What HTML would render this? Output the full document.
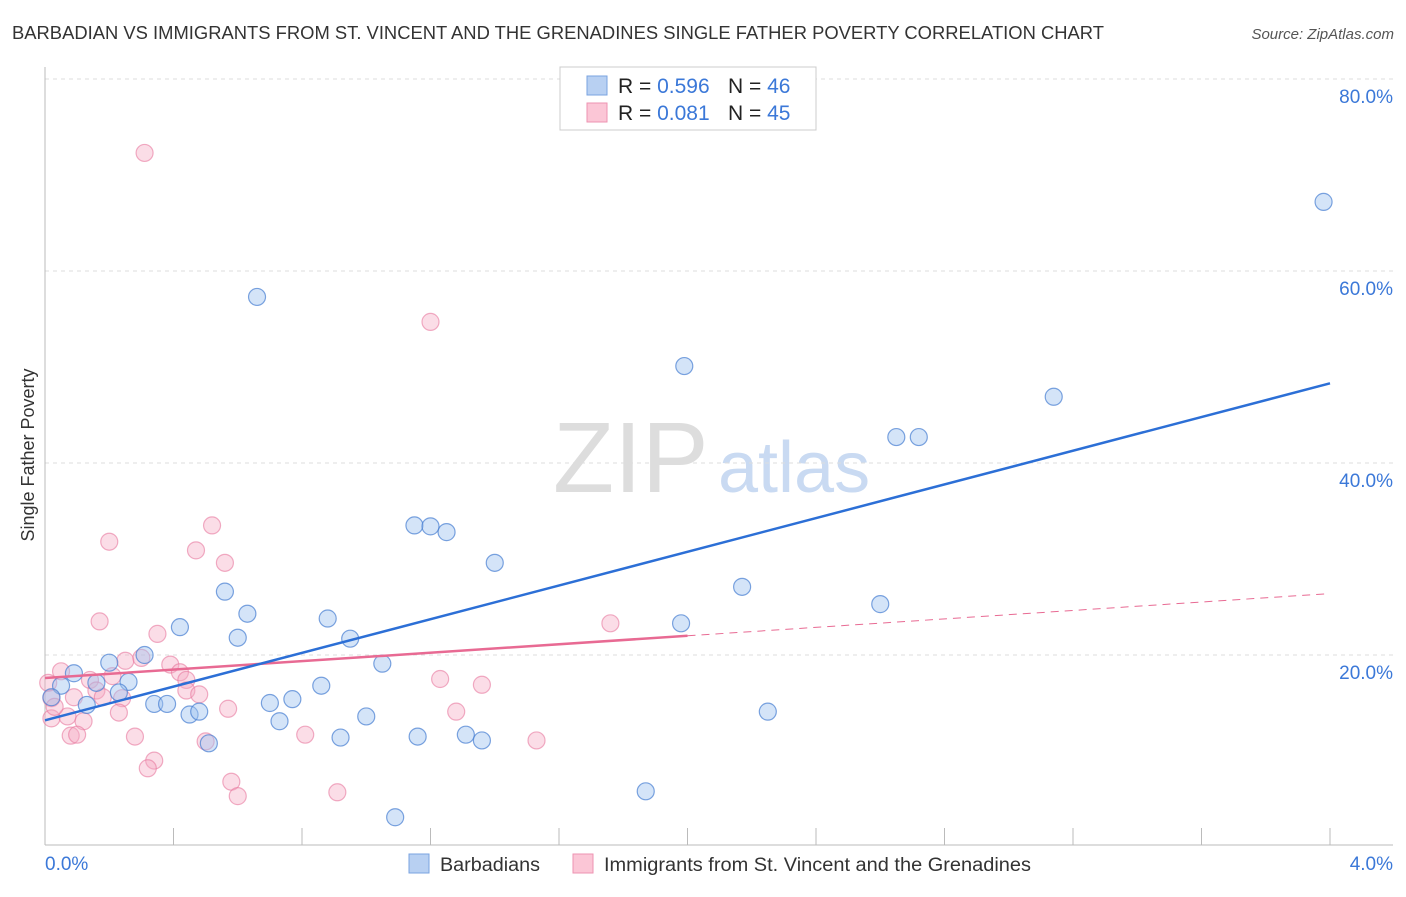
<!DOCTYPE html>
<html><head><meta charset="utf-8"><style>
body{margin:0;background:#fff;font-family:"Liberation Sans",sans-serif;}
svg text{font-family:"Liberation Sans",sans-serif;}
</style></head><body>
<svg id="chart" width="1406" height="892" xmlns="http://www.w3.org/2000/svg">
<text x="12" y="39" font-size="18" fill="#333" textLength="1092" lengthAdjust="spacingAndGlyphs">BARBADIAN VS IMMIGRANTS FROM ST. VINCENT AND THE GRENADINES SINGLE FATHER POVERTY CORRELATION CHART</text>
<text x="1394" y="39" font-size="15" fill="#555" font-style="italic" text-anchor="end">Source: ZipAtlas.com</text>
<g>
<text x="553" y="492" font-size="100" fill="#ddd" font-family="Liberation Serif, serif">ZIP</text>
<text x="718" y="492" font-size="72" fill="#c9daf2">atlas</text>
</g>
<g id="grid"></g>
<g id="axes"></g>
<g id="marks"></g>
<text transform="translate(34,455) rotate(-90)" font-size="18" fill="#333" text-anchor="middle">Single Father Poverty</text>
<g>
<rect x="560" y="67" width="256" height="63" fill="#fff" stroke="#ccc"/>
<rect x="587" y="76" width="20" height="19" fill="#b8d0f2" stroke="#7aa3e0"/>
<rect x="587" y="103" width="20" height="19" fill="#fbc6d6" stroke="#ee93b1"/>
<text x="618" y="93" font-size="21" fill="#222">R = <tspan fill="#3b78d8">0.596</tspan></text>
<text x="728" y="93" font-size="21" fill="#222">N = <tspan fill="#3b78d8">46</tspan></text>
<text x="618" y="120" font-size="21" fill="#222">R = <tspan fill="#3b78d8">0.081</tspan></text>
<text x="728" y="120" font-size="21" fill="#222">N = <tspan fill="#3b78d8">45</tspan></text>
</g>
<g>
<rect x="409" y="854" width="20" height="19" fill="#b8d0f2" stroke="#7aa3e0"/>
<text x="440" y="871" font-size="19" fill="#333" textLength="100" lengthAdjust="spacingAndGlyphs">Barbadians</text>
<rect x="573" y="854" width="20" height="19" fill="#fbc6d6" stroke="#ee93b1"/>
<text x="604" y="871" font-size="19" fill="#333" textLength="427" lengthAdjust="spacingAndGlyphs">Immigrants from St. Vincent and the Grenadines</text>
</g>
</svg>
<script>
const yTicks=[20,40,60,80];
const yTickLabels=["20.0%","40.0%","60.0%","80.0%"];
const xTickLabels=["0.0%","4.0%"];
const blueX=[3.98,0.66,1.99,3.14,2.65,2.72,1.15,1.20,1.25,1.40,2.17,0.56,2.60,0.63,0.88,0.42,1.98,0.60,0.95,0.31,0.20,1.05,0.09,0.26,0.05,0.16,0.86,0.23,0.77,0.34,0.38,0.70,0.13,0.02,0.45,0.48,1.00,0.73,2.25,0.51,0.92,1.16,1.31,1.36,1.87,1.09];
const blueY=[67.2,57.3,50.1,46.9,42.7,42.7,33.5,33.4,32.8,29.6,27.1,26.6,25.3,24.3,23.8,22.9,23.3,21.8,21.7,20.0,19.2,19.1,18.1,17.2,16.8,17.1,16.8,16.1,15.4,14.9,14.9,15.0,14.8,15.6,13.8,14.1,13.6,13.1,14.1,10.8,11.4,11.5,11.7,11.1,5.8,3.1];
const pinkX=[0.31,1.20,0.52,0.20,0.47,0.56,0.17,0.35,1.76,0.25,0.05,0.39,0.42,0.30,0.01,0.14,0.21,0.44,0.16,0.44,0.48,0.09,0.18,0.24,1.23,1.36,0.02,0.07,0.12,0.23,0.57,1.28,0.08,0.10,0.28,0.81,0.50,1.53,0.34,0.32,0.58,0.60,0.91,0.02,0.03];
const pinkY=[72.3,54.7,33.5,31.8,30.9,29.6,23.5,22.2,23.3,19.4,18.3,19.0,18.2,19.7,17.1,17.4,17.8,17.4,16.3,16.3,15.9,15.6,15.6,15.5,17.5,16.9,13.4,13.6,13.1,14.0,14.4,14.1,11.6,11.7,11.5,11.7,11.0,11.1,9.0,8.2,6.8,5.3,5.7,15.5,14.6];
const blueTrend=[[0,13.2],[4,48.3]];
const pinkTrendSolid=[[0,17.6],[2.0,22.0]];
const pinkTrendDash=[[2.0,22.0],[4,26.4]];
const NS='http://www.w3.org/2000/svg';
const sx=v=>45+v/4*1285;
const sy=v=>847-v*9.6;
function mk(tag,attrs,parent){const e=document.createElementNS(NS,tag);for(const k in attrs)e.setAttribute(k,attrs[k]);parent.appendChild(e);return e;}
const grid=document.getElementById('grid'),axes=document.getElementById('axes'),marks=document.getElementById('marks');
yTicks.forEach((t,i)=>{
 const l=mk('line',{x1:45,x2:1393,y1:sy(t),y2:sy(t),stroke:'#ddd','stroke-dasharray':'4,4'},grid);
 
 
 const tx=mk('text',{x:1393,y:sy(t)+24,'font-size':19,fill:'#3b78d8','text-anchor':'end'},grid);
 tx.textContent=yTickLabels[i];
 
 
});
let a=mk('line',{x1:45,x2:45,y1:67,y2:845,stroke:'#bbb'},axes);


a=mk('line',{x1:45,x2:1393,y1:845,y2:845,stroke:'#bbb'},axes);


for(let k=1;k<=10;k++){
 const x=45+128.5*k;
 const t=mk('line',{x1:x,x2:x,y1:828,y2:845,stroke:'#bbb'},axes);
 
 
}
let xl=mk('text',{x:45,y:870,'font-size':19,fill:'#3b78d8'},axes);xl.textContent=xTickLabels[0];


xl=mk('text',{x:1393,y:870,'font-size':19,fill:'#3b78d8','text-anchor':'end'},axes);xl.textContent=xTickLabels[1];


pinkX.forEach((v,i)=>{
 const c=mk('circle',{cx:sx(v),cy:sy(pinkY[i]),r:8.5,fill:'rgba(246,170,195,0.4)',stroke:'rgba(232,120,158,0.6)','stroke-width':1.2},marks);
 
 
});
blueX.forEach((v,i)=>{
 const c=mk('circle',{cx:sx(v),cy:sy(blueY[i]),r:8.5,fill:'rgba(160,195,240,0.45)',stroke:'rgba(70,125,210,0.7)','stroke-width':1.2},marks);
 
 
});
let t=mk('line',{x1:sx(pinkTrendDash[0][0]),y1:sy(pinkTrendDash[0][1]),x2:sx(pinkTrendDash[1][0]),y2:sy(pinkTrendDash[1][1]),stroke:'#e86a93','stroke-width':1,'stroke-dasharray':'8,6'},marks);


t=mk('line',{x1:sx(pinkTrendSolid[0][0]),y1:sy(pinkTrendSolid[0][1]),x2:sx(pinkTrendSolid[1][0]),y2:sy(pinkTrendSolid[1][1]),stroke:'#e86a93','stroke-width':2.5},marks);


t=mk('line',{x1:sx(blueTrend[0][0]),y1:sy(blueTrend[0][1]),x2:sx(blueTrend[1][0]),y2:sy(blueTrend[1][1]),stroke:'#2c6fd6','stroke-width':2.5},marks);


</script>
</body></html>
